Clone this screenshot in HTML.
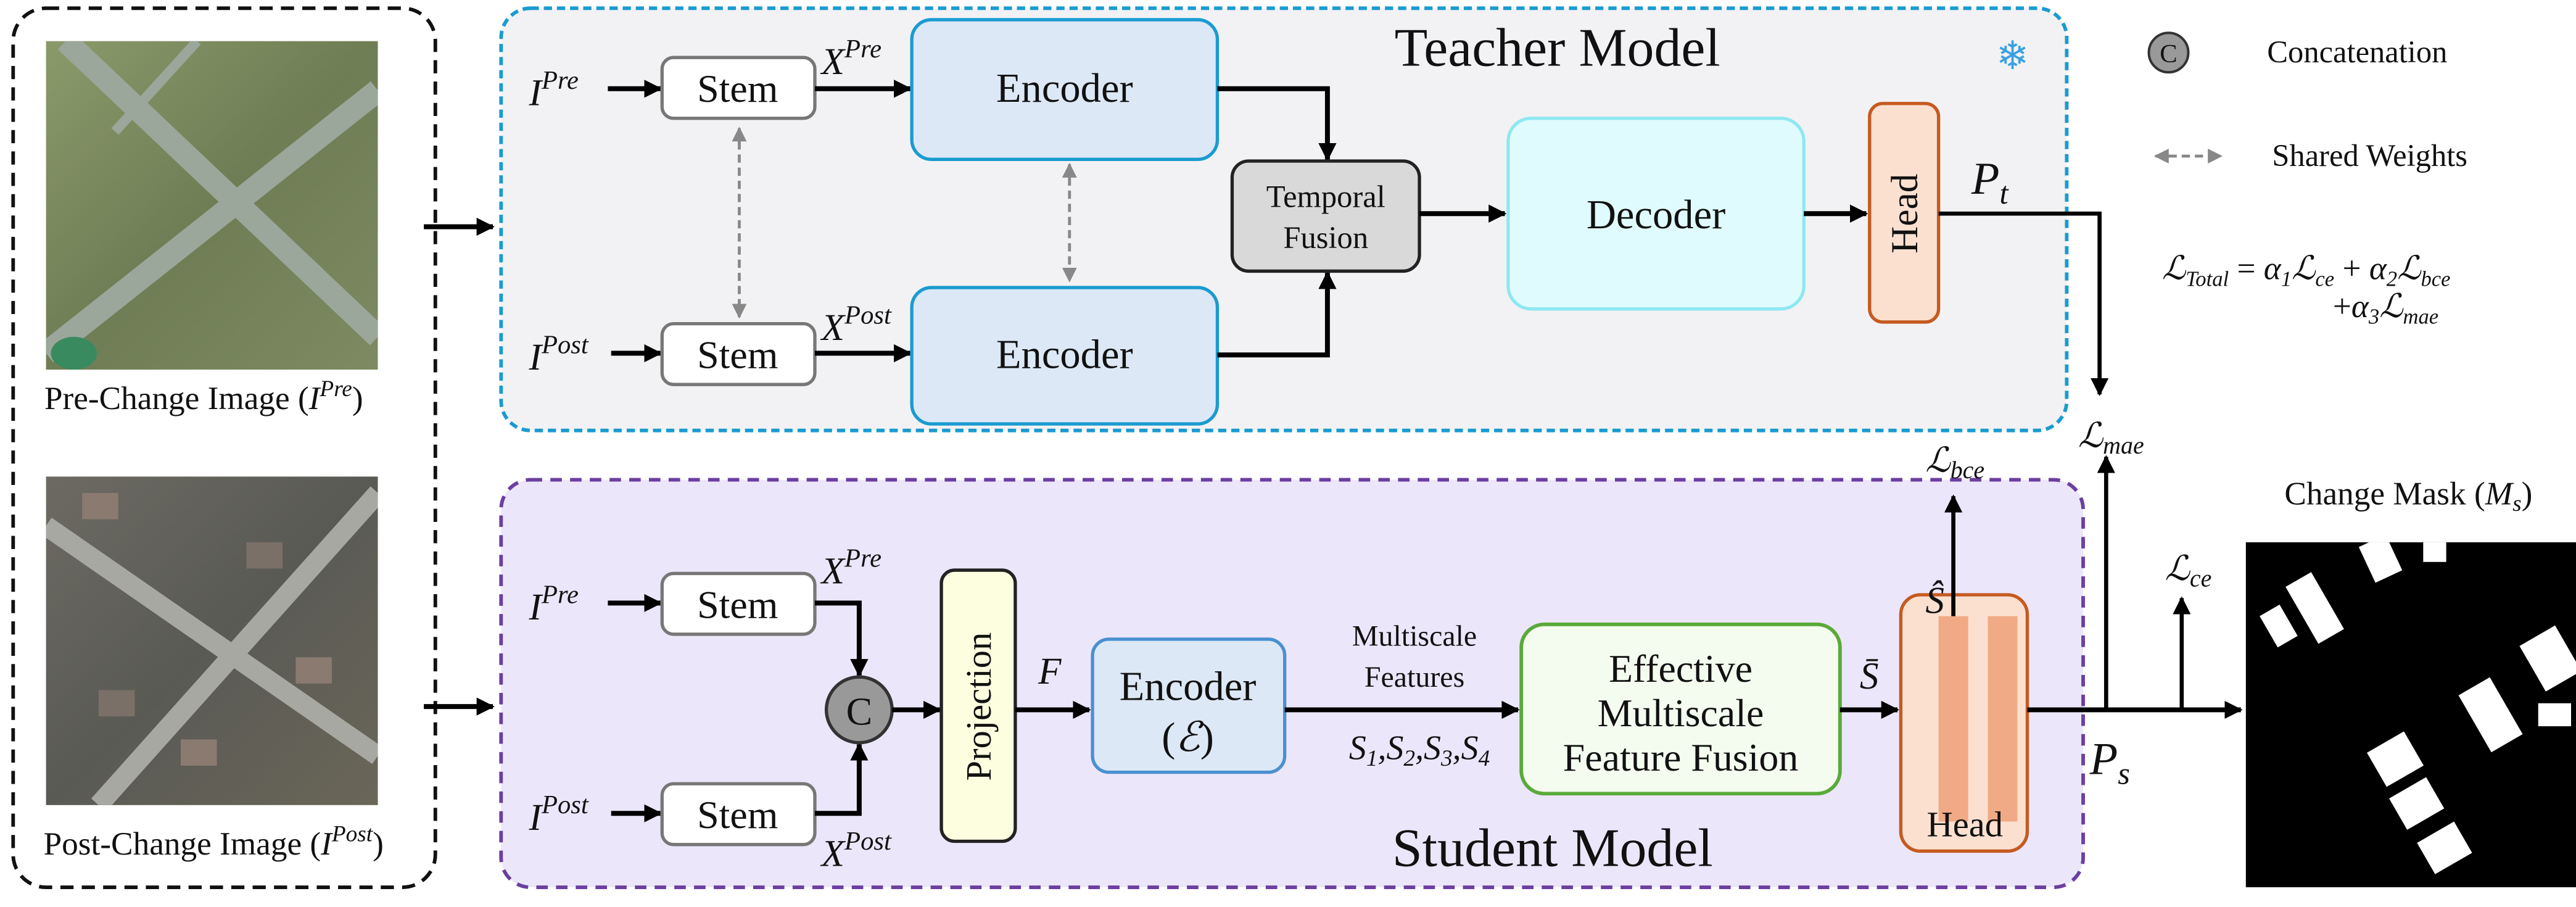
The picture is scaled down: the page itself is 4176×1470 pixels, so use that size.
<!DOCTYPE html>
<html><head><meta charset="utf-8"><style>
html,body{margin:0;padding:0;background:#fff;}
svg{display:block;}
text{font-family:"Liberation Serif","DejaVu Serif",serif;fill:#111;}
.it{font-style:italic;}
</style></head><body>
<svg width="4176" height="1470" viewBox="0 0 1568 552" preserveAspectRatio="none" xmlns="http://www.w3.org/2000/svg">
<defs>
<marker id="a" viewBox="0 0 10 10" refX="9" refY="5" markerWidth="11" markerHeight="11" markerUnits="userSpaceOnUse" orient="auto"><path d="M0,0 L10,5 L0,10 z" fill="#000"/></marker>
<marker id="g" viewBox="0 0 10 10" refX="9" refY="5" markerWidth="9" markerHeight="9" markerUnits="userSpaceOnUse" orient="auto-start-reverse"><path d="M0,0 L10,5 L0,10 z" fill="#888"/></marker>
<linearGradient id="pre" x1="0" y1="0" x2="1" y2="1"><stop offset="0" stop-color="#8a9a6a"/><stop offset="0.5" stop-color="#6f7d55"/><stop offset="1" stop-color="#7d8a62"/></linearGradient>
<linearGradient id="post" x1="0" y1="0" x2="1" y2="1"><stop offset="0" stop-color="#6c6a62"/><stop offset="0.5" stop-color="#5a5a55"/><stop offset="1" stop-color="#6a6658"/></linearGradient>
<clipPath id="c1"><rect x="28" y="25" width="202" height="200"/></clipPath>
<clipPath id="c2"><rect x="28" y="290" width="202" height="200"/></clipPath>
<clipPath id="c3"><rect x="1367" y="330" width="201" height="210"/></clipPath>
</defs>

<!-- left box -->
<rect x="8" y="5" width="257" height="535" rx="20" fill="none" stroke="#111" stroke-width="2.2" stroke-dasharray="8,5"/>
<g clip-path="url(#c1)">
<rect x="28" y="25" width="202" height="200" fill="url(#pre)"/>
<path d="M40,25 L230,205" stroke="#9aa79a" stroke-width="14"/>
<path d="M230,55 L28,215" stroke="#9aa79a" stroke-width="14"/>
<path d="M120,25 L70,80" stroke="#9aa79a" stroke-width="6"/>
<ellipse cx="45" cy="215" rx="14" ry="10" fill="#3a8a60"/>
</g>
<text x="124" y="249" font-size="20" text-anchor="middle">Pre-Change Image (<tspan class="it">I</tspan><tspan class="it" font-size="14" dy="-8">Pre</tspan><tspan dy="8">)</tspan></text>
<g clip-path="url(#c2)">
<rect x="28" y="290" width="202" height="200" fill="url(#post)"/>
<path d="M28,320 L230,460" stroke="#a8a8a2" stroke-width="12"/>
<path d="M230,300 L60,490" stroke="#a8a8a2" stroke-width="12"/>
<rect x="50" y="300" width="22" height="16" fill="#8a7a70"/><rect x="150" y="330" width="22" height="16" fill="#7a7068"/>
<rect x="180" y="400" width="22" height="16" fill="#8a7a70"/><rect x="60" y="420" width="22" height="16" fill="#7a7068"/>
<rect x="110" y="450" width="22" height="16" fill="#8a7a70"/>
</g>
<text x="130" y="520" font-size="20" text-anchor="middle">Post-Change Image (<tspan class="it">I</tspan><tspan class="it" font-size="14" dy="-8">Post</tspan><tspan dy="8">)</tspan></text>
<line x1="258" y1="138" x2="300" y2="138" stroke="#000" stroke-width="3" marker-end="url(#a)"/>
<line x1="258" y1="430" x2="300" y2="430" stroke="#000" stroke-width="3" marker-end="url(#a)"/>

<!-- teacher -->
<rect x="305" y="5" width="953" height="257" rx="18" fill="#f2f2f4" stroke="#1a9bd0" stroke-width="2.2" stroke-dasharray="5,3"/>
<text x="948" y="40" font-size="33" text-anchor="middle">Teacher Model</text>
<text x="1225" y="42" font-size="24" text-anchor="middle" style="fill:#3aa0e0">❄</text>
<text x="322" y="64" font-size="23" class="it">I<tspan font-size="16" dy="-10">Pre</tspan></text>
<line x1="370" y1="54" x2="402" y2="54" stroke="#000" stroke-width="3" marker-end="url(#a)"/>
<rect x="403" y="35" width="93" height="37" rx="7" fill="#fff" stroke="#777" stroke-width="2"/>
<text x="449" y="62" font-size="24" text-anchor="middle">Stem</text>
<text x="500" y="45" font-size="23" class="it">X<tspan font-size="16" dy="-10">Pre</tspan></text>
<line x1="496" y1="54" x2="554" y2="54" stroke="#000" stroke-width="3" marker-end="url(#a)"/>
<rect x="555" y="12" width="186" height="85" rx="12" fill="#dce8f5" stroke="#1a9bd0" stroke-width="2"/>
<text x="648" y="62" font-size="25" text-anchor="middle">Encoder</text>
<text x="322" y="225" font-size="23" class="it">I<tspan font-size="16" dy="-10">Post</tspan></text>
<line x1="372" y1="215" x2="402" y2="215" stroke="#000" stroke-width="3" marker-end="url(#a)"/>
<rect x="403" y="197" width="93" height="37" rx="7" fill="#fff" stroke="#777" stroke-width="2"/>
<text x="449" y="224" font-size="24" text-anchor="middle">Stem</text>
<text x="500" y="207" font-size="23" class="it">X<tspan font-size="16" dy="-10">Post</tspan></text>
<line x1="496" y1="215" x2="554" y2="215" stroke="#000" stroke-width="3" marker-end="url(#a)"/>
<rect x="555" y="175" width="186" height="83" rx="12" fill="#dce8f5" stroke="#1a9bd0" stroke-width="2"/>
<text x="648" y="224" font-size="25" text-anchor="middle">Encoder</text>
<line x1="450" y1="78" x2="450" y2="193" stroke="#888" stroke-width="1.8" stroke-dasharray="5,3" marker-start="url(#g)" marker-end="url(#g)"/>
<line x1="651" y1="100" x2="651" y2="171" stroke="#888" stroke-width="1.8" stroke-dasharray="5,3" marker-start="url(#g)" marker-end="url(#g)"/>
<polyline points="741,54 808,54 808,97" fill="none" stroke="#000" stroke-width="3" marker-end="url(#a)"/>
<polyline points="741,216 808,216 808,166" fill="none" stroke="#000" stroke-width="3" marker-end="url(#a)"/>
<rect x="750" y="98" width="114" height="67" rx="10" fill="#d9d9d9" stroke="#222" stroke-width="2"/>
<text x="807" y="126" font-size="19" text-anchor="middle">Temporal</text>
<text x="807" y="151" font-size="19" text-anchor="middle">Fusion</text>
<line x1="864" y1="130" x2="916" y2="130" stroke="#000" stroke-width="3" marker-end="url(#a)"/>
<rect x="918" y="72" width="180" height="116" rx="14" fill="#e0fbfd" stroke="#8ee8f0" stroke-width="2"/>
<text x="1008" y="139" font-size="25" text-anchor="middle">Decoder</text>
<line x1="1098" y1="130" x2="1136" y2="130" stroke="#000" stroke-width="3" marker-end="url(#a)"/>
<rect x="1138" y="63" width="42" height="133" rx="8" fill="#fbe0d0" stroke="#c55a20" stroke-width="2"/>
<text x="1159" y="138" font-size="23" text-anchor="middle" transform="rotate(-90 1159 130)">Head</text>
<text x="1200" y="118" font-size="28" class="it">P<tspan font-size="19" dy="6">t</tspan></text>
<polyline points="1180,130 1278,130 1278,240" fill="none" stroke="#000" stroke-width="2.5" marker-end="url(#a)"/>
<text x="1285" y="272" font-size="21" text-anchor="middle" class="it">ℒ<tspan font-size="15" dy="4">mae</tspan></text>

<!-- legend -->
<circle cx="1320" cy="32" r="12" fill="#999" stroke="#333" stroke-width="1.5"/>
<text x="1320" y="38" font-size="16" text-anchor="middle">C</text>
<text x="1380" y="38" font-size="19">Concatenation</text>
<line x1="1312" y1="95" x2="1352" y2="95" stroke="#888" stroke-width="1.8" stroke-dasharray="5,3" marker-start="url(#g)" marker-end="url(#g)"/>
<text x="1383" y="101" font-size="19">Shared Weights</text>
<text x="1316" y="170" font-size="20" class="it">ℒ<tspan font-size="13" dy="4">Total</tspan><tspan dy="-4" font-style="normal"> = </tspan>α<tspan font-size="13" dy="4">1</tspan><tspan dy="-4">ℒ</tspan><tspan font-size="13" dy="4">ce</tspan><tspan dy="-4" font-style="normal"> +  </tspan>α<tspan font-size="13" dy="4">2</tspan><tspan dy="-4">ℒ</tspan><tspan font-size="13" dy="4">bce</tspan></text>
<text x="1420" y="193" font-size="20" class="it"><tspan font-style="normal">+</tspan>α<tspan font-size="13" dy="4">3</tspan><tspan dy="-4">ℒ</tspan><tspan font-size="13" dy="4">mae</tspan></text>

<!-- student -->
<rect x="305" y="292" width="963" height="248" rx="18" fill="#ece6fa" stroke="#6b3fa0" stroke-width="2.2" stroke-dasharray="7,5"/>
<text x="945" y="527" font-size="33" text-anchor="middle">Student Model</text>
<text x="322" y="377" font-size="23" class="it">I<tspan font-size="16" dy="-10">Pre</tspan></text>
<line x1="370" y1="367" x2="402" y2="367" stroke="#000" stroke-width="3" marker-end="url(#a)"/>
<rect x="403" y="349" width="93" height="37" rx="7" fill="#fff" stroke="#777" stroke-width="2"/>
<text x="449" y="376" font-size="24" text-anchor="middle">Stem</text>
<text x="500" y="355" font-size="23" class="it">X<tspan font-size="16" dy="-10">Pre</tspan></text>
<text x="322" y="505" font-size="23" class="it">I<tspan font-size="16" dy="-10">Post</tspan></text>
<line x1="372" y1="495" x2="402" y2="495" stroke="#000" stroke-width="3" marker-end="url(#a)"/>
<rect x="403" y="477" width="93" height="37" rx="7" fill="#fff" stroke="#777" stroke-width="2"/>
<text x="449" y="504" font-size="24" text-anchor="middle">Stem</text>
<text x="500" y="527" font-size="23" class="it">X<tspan font-size="16" dy="-10">Post</tspan></text>
<polyline points="496,367 523,367 523,411" fill="none" stroke="#000" stroke-width="3" marker-end="url(#a)"/>
<polyline points="496,495 523,495 523,453" fill="none" stroke="#000" stroke-width="3" marker-end="url(#a)"/>
<circle cx="523" cy="432" r="20" fill="#999" stroke="#333" stroke-width="2"/>
<text x="523" y="441" font-size="24" text-anchor="middle">C</text>
<line x1="543" y1="432" x2="572" y2="432" stroke="#000" stroke-width="3" marker-end="url(#a)"/>
<rect x="573" y="347" width="45" height="165" rx="8" fill="#fdfde0" stroke="#222" stroke-width="2"/>
<text x="596" y="437" font-size="22" text-anchor="middle" transform="rotate(-90 596 430)">Projection</text>
<text x="632" y="416" font-size="23" class="it">F</text>
<line x1="618" y1="432" x2="663" y2="432" stroke="#000" stroke-width="3" marker-end="url(#a)"/>
<rect x="665" y="389" width="117" height="81" rx="10" fill="#dce8f5" stroke="#4a90d0" stroke-width="2"/>
<text x="723" y="426" font-size="25" text-anchor="middle">Encoder</text>
<text x="723" y="457" font-size="25" text-anchor="middle">(<tspan class="it">ℰ</tspan>)</text>
<text x="861" y="393" font-size="18" text-anchor="middle">Multiscale</text>
<text x="861" y="418" font-size="18" text-anchor="middle">Features</text>
<text x="864" y="462" font-size="21" text-anchor="middle" class="it">S<tspan font-size="14" dy="4">1</tspan><tspan dy="-4">,S</tspan><tspan font-size="14" dy="4">2</tspan><tspan dy="-4">,S</tspan><tspan font-size="14" dy="4">3</tspan><tspan dy="-4">,S</tspan><tspan font-size="14" dy="4">4</tspan></text>
<line x1="782" y1="432" x2="924" y2="432" stroke="#000" stroke-width="3" marker-end="url(#a)"/>
<rect x="926" y="380" width="194" height="103" rx="14" fill="#f4fbef" stroke="#5aaa3a" stroke-width="2.2"/>
<text x="1023" y="415" font-size="24" text-anchor="middle">Effective</text>
<text x="1023" y="442" font-size="24" text-anchor="middle">Multiscale</text>
<text x="1023" y="469" font-size="24" text-anchor="middle">Feature Fusion</text>
<text x="1132" y="419" font-size="23" class="it">S̄</text>
<line x1="1120" y1="432" x2="1155" y2="432" stroke="#000" stroke-width="3" marker-end="url(#a)"/>
<rect x="1157" y="362" width="77" height="156" rx="12" fill="#fbe0d0" stroke="#c55a20" stroke-width="2"/>
<rect x="1180" y="375" width="18" height="125" fill="#f0aa85"/>
<rect x="1210" y="375" width="18" height="125" fill="#f0aa85"/>
<text x="1196" y="509" font-size="22" text-anchor="middle">Head</text>
<text x="1172" y="373" font-size="23" class="it">Ŝ</text>
<line x1="1189" y1="375" x2="1189" y2="302" stroke="#000" stroke-width="2.5" marker-end="url(#a)"/>
<text x="1190" y="287" font-size="21" text-anchor="middle" class="it">ℒ<tspan font-size="15" dy="4">bce</tspan></text>
<line x1="1234" y1="432" x2="1364" y2="432" stroke="#000" stroke-width="3" marker-end="url(#a)"/>
<line x1="1282" y1="432" x2="1282" y2="278" stroke="#000" stroke-width="2.5" marker-end="url(#a)"/>
<line x1="1328" y1="432" x2="1328" y2="364" stroke="#000" stroke-width="2.5" marker-end="url(#a)"/>
<text x="1332" y="353" font-size="21" text-anchor="middle" class="it">ℒ<tspan font-size="15" dy="4">ce</tspan></text>
<text x="1272" y="471" font-size="28" class="it">P<tspan font-size="19" dy="6">s</tspan></text>
<text x="1466" y="307" font-size="20" text-anchor="middle">Change Mask (<tspan class="it">M</tspan><tspan class="it" font-size="14" dy="4">s</tspan><tspan dy="-4">)</tspan></text>
<g clip-path="url(#c3)">
<rect x="1367" y="330" width="201" height="210" fill="#000"/>
<g fill="#fff">
<rect x="1440" y="328" width="18" height="24" transform="rotate(-25 1449 340)"/>
<rect x="1400" y="350" width="18" height="40" transform="rotate(-30 1409 370)"/>
<rect x="1380" y="370" width="14" height="22" transform="rotate(-30 1387 381)"/>
<rect x="1475" y="330" width="14" height="12"/>
<rect x="1540" y="385" width="25" height="32" transform="rotate(-30 1552 401)"/>
<rect x="1505" y="415" width="22" height="40" transform="rotate(-30 1516 435)"/>
<rect x="1445" y="450" width="26" height="24" transform="rotate(-30 1458 462)"/>
<rect x="1458" y="478" width="26" height="22" transform="rotate(-30 1471 489)"/>
<rect x="1475" y="505" width="26" height="22" transform="rotate(-30 1488 516)"/>
<rect x="1545" y="428" width="20" height="14"/>
</g>
</g>
</svg>
</body></html>
